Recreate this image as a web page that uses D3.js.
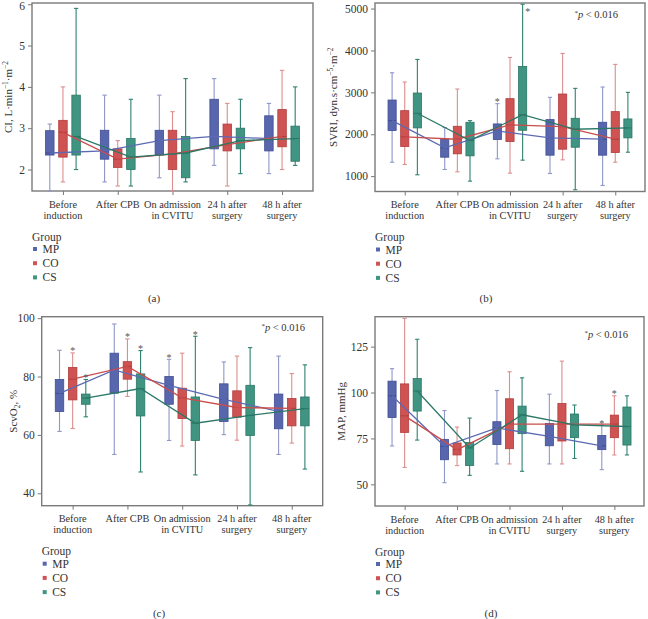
<!DOCTYPE html>
<html><head><meta charset="utf-8">
<script src="https://cdn.jsdelivr.net/npm/d3@7"></script>
<style>
body{margin:0;background:#fff;}
text{font-family:"Liberation Serif","Times New Roman",serif;fill:#333;}
</style></head>
<body><svg id="chart" width="648" height="619"></svg>
<script>
// ---------- data ----------
const categoryLines = [["Before","induction"],["After CPB"],["On admission","in CVITU"],["24 h after","surgery"],["48 h after","surgery"]];
const groups = ["MP","CO","CS"];
// each entry: [whisker low, Q1, median, Q3, whisker high]
const ciMP = [[1.48,2.35,2.4,2.94,3.1],[1.7,2.25,2.45,2.95,3.8],[1.8,2.35,2.7,2.95,3.8],[2.1,2.5,2.8,3.7,4.2],[1.9,2.45,2.75,3.3,3.6]];
const ciCO = [[1.7,2.3,2.9,3.19,4.0],[1.6,2.05,2.25,2.5,2.7],[1.48,2.0,2.38,2.95,3.4],[1.6,2.45,2.6,3.1,3.6],[2.0,2.55,2.8,3.45,4.4]];
const ciCS = [[2.0,2.35,2.8,3.8,5.9],[1.6,2.0,2.3,2.75,3.7],[1.7,1.8,2.4,2.8,4.2],[1.9,2.5,2.7,3.0,3.7],[2.1,2.2,2.75,3.05,4.0]];
const ciTicks = [2,3,4,5,6];

const svriMP = [[1333,2087,2325,2817,3468],[1159,1452,1675,1873,2159],[1413,1873,2079,2246,2730],[1063,1500,1913,2349,2881],[778,1500,1881,2286,3127]];
const svriCO = [[1278,1706,1937,2563,3246],[1103,1532,1881,2190,3079],[1071,1825,2222,2849,3833],[1389,1643,2183,2960,3929],[1333,1563,1881,2540,3667]];
const svriCS = [[1032,2151,2500,2984,3786],[881,1484,1849,2286,2325],[1381,2095,2468,3619,5103],[675,1690,2119,2381,3095],[1571,1913,2151,2365,3000]];
const svriTicks = [1000,2000,3000,4000,5000];
const svriStars = [[2,0],[2,2]];

const scvoMP = [[61.2,68.0,74.2,79.0,89.0],[53.3,74.3,82.3,88.0,98.0],[58.1,70.5,77.0,80.0,85.9],[60.1,64.6,72.2,77.5,85.0],[53.3,62.1,68.1,74.0,87.0]];
const scvoCO = [[62.2,72.0,79.1,83.1,88.1],[73.2,79.1,83.5,85.1,92.9],[56.2,65.6,72.7,76.0,88.0],[58.2,66.1,69.4,75.1,87.0],[57.2,63.1,69.1,72.5,81.0]];
const scvoCS = [[66.2,70.5,72.6,74.0,79.0],[47.3,66.5,75.9,80.9,88.9],[46.3,58.1,64.0,73.0,93.8],[36.0,59.8,66.7,77.0,89.9],[48.3,63.1,69.0,73.0,84.0]];
const scvoTicks = [40,60,80,100];
const scvoStars = [[0,1],[0,2],[1,1],[1,2],[2,0],[2,2]];

const mapMP = [[70.9,86.4,98.2,106.2,113.0],[50.9,63.4,70.7,74.5,90.2],[61.1,71.7,80.7,84.1,101.1],[61.1,71.0,76.1,83.2,99.1],[58.0,68.9,71.0,76.6,82.3]];
const mapCO = [[59.2,78.3,87.3,104.7,140.4],[60.2,66.0,68.9,72.5,81.2],[61.1,69.4,82.8,96.6,111.3],[61.1,73.6,82.8,94.0,117.1],[66.0,75.4,82.8,87.7,98.2]];
const mapCS = [[74.1,89.9,100.8,107.6,129.0],[54.9,60.3,69.8,72.8,86.1],[57.1,77.6,87.9,92.6,108.0],[64.1,75.4,82.4,88.3,93.2],[66.0,71.4,81.5,92.1,98.2]];
const mapTicks = [50,75,100,125];
const mapStars = [[4,0],[4,1]];

const pLabel = "p < 0.016";

// ---------- styling ----------
const boxFill   = ["#5866ae","#d05353","#3f9582"];
const boxStroke = ["#404d93","#b23c3c","#2b7665"];
const whiskCol  = ["#8e97c9","#dc8e8e","#2f8170"];
const lineCol   = ["#5b6ab3","#c94d4d","#2a7866"];

const panels = [
  {data:[ciMP,ciCO,ciCS], ticks:ciTicks, domain:[1.48,6.03], r:{x0:32,x1:313,y0:3,y1:191},
   title:[["CI, L·min",0],["−1",1],["·m",0],["−2",1]], titleX:12, cap:"(a)", capX:154, capY:298, stars:[], p:null},
  {data:[svriMP,svriCO,svriCS], ticks:svriTicks, domain:[633,5133], r:{x0:375,x1:645,y0:3,y1:191.5},
   title:[["SVRI, dyn.s·cm",0],["−5",1],["·m",0],["−2",1]], titleX:337, cap:"(b)", capX:486, capY:298, stars:svriStars, p:{x:618,y:14}},
  {data:[scvoMP,scvoCO,scvoCS], ticks:scvoTicks, domain:[35.75,100.5], r:{x0:41.7,x1:322.7,y0:316.7,y1:505.7},
   title:[["ScvO",0],["2",-1],[", %",0]], titleX:17, cap:"(c)", capX:159, capY:613, stars:scvoStars, p:{x:305,y:327}},
  {data:[mapMP,mapCO,mapCS], ticks:mapTicks, domain:[38.2,141.3], r:{x0:375,x1:644,y0:316.7,y1:506},
   title:[["MAP, mmHg",0]], titleX:344.7, cap:"(d)", capX:491, capY:613, stars:mapStars, p:{x:628,y:334}}
];

const svg = d3.select("#chart");

panels.forEach(P => {
  const {r} = P;
  const g = svg.append("g");
  const x = d3.scalePoint().domain(d3.range(categoryLines.length)).range([r.x0, r.x1]).padding(0.565);
  const y = d3.scaleLinear().domain(P.domain).range([r.y1, r.y0]);
  const step = x.step();
  const off = 0.24 * step, bw = 0.155 * step, cw = 0.08 * step;
  const gx = (ci, gi) => x(ci) + (gi - 1) * off;

  // axes
  const yAxis = d3.axisLeft(y).tickValues(P.ticks).tickSize(4).tickPadding(3).tickFormat(d3.format("d"));
  const ya = g.append("g").attr("transform", `translate(${r.x0},0)`).call(yAxis);
  ya.select(".domain").remove();
  ya.selectAll("line").attr("stroke","#777");
  ya.selectAll("text").style("font-size","11.5px").style("fill","#333").style("font-family","Liberation Serif, serif");
  // keep a label that sits on the very top edge inside the picture
  ya.selectAll(".tick").each(function(d){
    const ty = y(d);
    if (ty < 6) d3.select(this).select("text").attr("y", 6 - ty);
  });

  const xAxis = d3.axisBottom(x).tickSize(4).tickFormat("");
  const xa = g.append("g").attr("transform", `translate(0,${r.y1})`).call(xAxis);
  xa.select(".domain").remove();
  xa.selectAll("line").attr("stroke","#777");
  categoryLines.forEach((lines, ci) => {
    lines.forEach((t, li) => {
      g.append("text").attr("x", x(ci)).attr("y", r.y1 + 16.5 + li * 11)
        .attr("text-anchor","middle").style("font-size","10.3px").text(t);
    });
  });

  // frame
  g.append("rect").attr("x", r.x0).attr("y", r.y0).attr("width", r.x1 - r.x0).attr("height", r.y1 - r.y0)
    .attr("fill","none").attr("stroke","#7a7a7a").attr("stroke-width",1.4);

  // boxes
  P.data.forEach((series, gi) => {
    series.forEach((b, ci) => {
      const cx = gx(ci, gi);
      const [lo, q1, md, q3, hi] = b;
      g.append("line").attr("x1",cx).attr("x2",cx).attr("y1",y(hi)).attr("y2",y(lo))
        .attr("stroke",whiskCol[gi]).attr("stroke-width",1.1);
      [hi, lo].forEach(v => g.append("line").attr("x1",cx-cw/2).attr("x2",cx+cw/2).attr("y1",y(v)).attr("y2",y(v))
        .attr("stroke",whiskCol[gi]).attr("stroke-width",1.1));
      g.append("rect").attr("x",cx-bw/2).attr("y",y(q3)).attr("width",bw).attr("height",y(q1)-y(q3))
        .attr("fill",boxFill[gi]).attr("stroke",boxStroke[gi]).attr("stroke-width",0.8);
      g.append("line").attr("x1",cx-bw/2).attr("x2",cx+bw/2).attr("y1",y(md)).attr("y2",y(md))
        .attr("stroke",boxStroke[gi]).attr("stroke-width",1);
    });
  });

  // median connecting lines
  P.data.forEach((series, gi) => {
    const line = d3.line().x((d, ci) => gx(ci, gi)).y(d => y(d[2]));
    g.append("path").datum(series).attr("d", line).attr("fill","none")
      .attr("stroke", lineCol[gi]).attr("stroke-width",1.3);
  });

  // significance stars
  P.stars.forEach(([ci, gi]) => {
    const cx = gx(ci, gi);
    const ty = y(P.data[gi][ci][4]);
    let sx = cx, sy = ty + 1.5;
    if (ty - 8 < r.y0) { sx = cx + 5; sy = ty + 11; }
    g.append("text").attr("x", sx).attr("y", sy).attr("text-anchor","middle")
      .style("font-size","10px").style("fill","#555").text("*");
  });

  // p label
  if (P.p) {
    const t = g.append("text").attr("x", P.p.x).attr("y", P.p.y + 3.5).attr("text-anchor","end").style("font-size","10.5px");
    t.append("tspan").attr("dy","-3").style("font-size","7px").text("*");
    t.append("tspan").attr("dy","3").style("font-style","italic").text("p");
    t.append("tspan").text(pLabel.slice(1));
  }

  // y-axis title
  const cy = (r.y0 + r.y1) / 2;
  const tt = g.append("text").attr("transform", `translate(${P.titleX},${cy}) rotate(-90)`)
    .attr("text-anchor","middle").attr("dy","0.35em").style("font-size","11px");
  let prev = 0;
  P.title.forEach(([s, sup]) => {
    const shift = sup === 1 ? -4 : sup === -1 ? 3 : 0;
    tt.append("tspan").attr("dy", (shift - prev) + "px")
      .style("font-size", sup ? "7.5px" : "11px").text(s);
    prev = shift;
  });

  // legend
  g.append("text").attr("x", r.x0).attr("y", r.y1 + 49.5).style("font-size","11.5px").text("Group");
  groups.forEach((name, gi) => {
    const ly = r.y1 + 58 + gi * 14.2;
    g.append("rect").attr("x", r.x0 + 1).attr("y", ly - 2).attr("width",4).attr("height",4)
      .attr("fill", boxFill[gi]);
    g.append("text").attr("x", r.x0 + 10.5).attr("y", ly + 4).style("font-size","11.5px").text(name);
  });

  // caption
  g.append("text").attr("x", P.capX).attr("y", P.capY + 4).attr("text-anchor","middle")
    .style("font-size","11px").text(P.cap);
});
</script>
</body></html>
